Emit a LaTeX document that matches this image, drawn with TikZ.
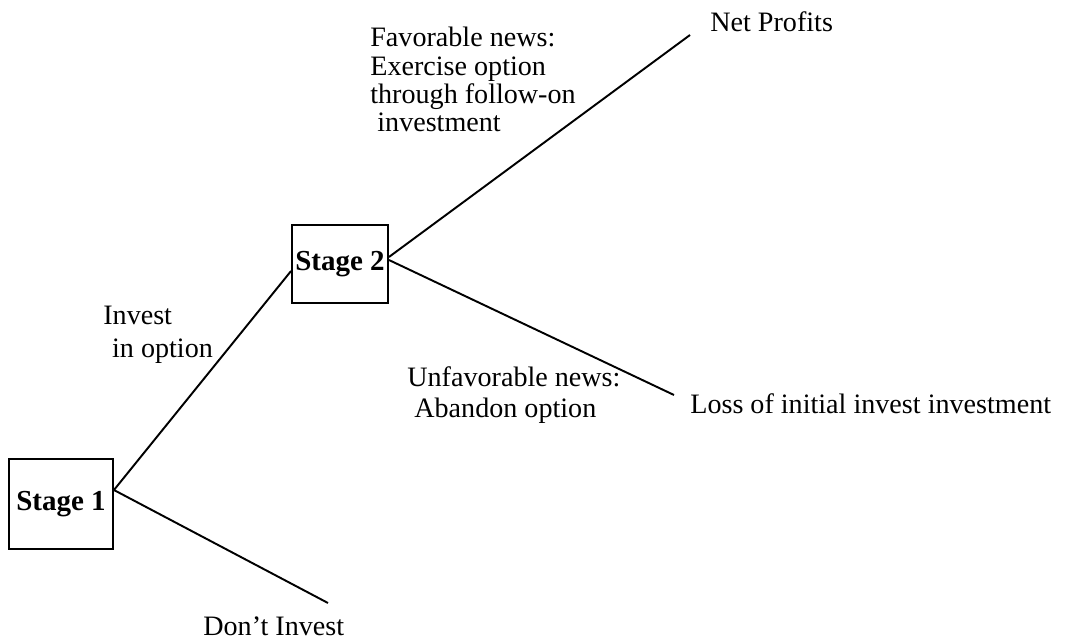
\documentclass[tikz,border=0pt]{standalone}
\usepackage{fontspec}
\setmainfont{Liberation Serif}
\begin{document}
\begin{tikzpicture}[x=0.02cm, y=-0.02cm,
    stagebox/.style={draw, line width=1.1pt, font=\fontsize{16.5}{16.5}\selectfont\bfseries, inner sep=0pt},
    lbl/.style={font=\fontsize{16}{16.1}\selectfont, inner sep=0pt, align=left},
    branch/.style={line width=1.1pt},
  ]
    \useasboundingbox (0,0) rectangle (1065,642);

    % === Decision boxes ===
    \node[stagebox, minimum width=2.08cm, minimum height=1.8cm] (s1) at (61,504) {Stage 1};
    \node[stagebox, minimum width=1.92cm, minimum height=1.56cm] (s2) at (340,264) {Stage 2};

    % === Outcome labels ===
    \node[lbl, anchor=base west] (np) at (710,32) {Net Profits};
    \node[lbl, anchor=base west] (loss) at (690,413) {Loss of initial invest investment};
    \node[lbl, anchor=base west] (dont) at (203,635) {Don't Invest};

    % === Branch labels ===
    \node[lbl, anchor=north west] (fav) at (370,27)
      {Favorable news:\\Exercise option\\through follow-on\\\hspace*{4pt}investment};
    \node[lbl, anchor=north west] (unfav) at (407,366)
      {Unfavorable news:\\[1.5pt]\hspace*{4pt}Abandon option};
    \node[lbl, anchor=north west] (inv) at (103,306)
      {Invest\\[2.5pt]\hspace*{5pt}in option};

    % free ends of the branches
    \coordinate (npend) at (690,35);
    \coordinate (lossend) at (674,395);
    \coordinate (dontend) at (328,603);

    % === Branches ===
    \draw[branch] ([yshift=0.28cm]s1.east) -- ([yshift=-0.14cm]s2.west);
    \draw[branch] ([yshift=0.28cm]s1.east) -- (dontend);
    \draw[branch] ([yshift=0.14cm]s2.east) -- (npend);
    \draw[branch] ([yshift=0.08cm]s2.east) -- (lossend);
  \end{tikzpicture}
\end{document}
